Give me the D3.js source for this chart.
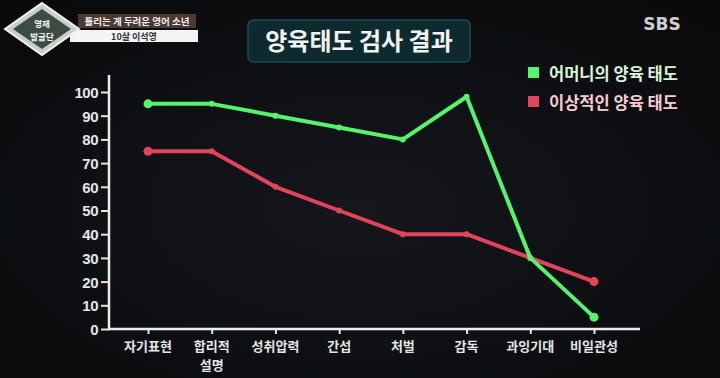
<!DOCTYPE html>
<html>
<head>
<meta charset="utf-8">
<script src="https://cdn.jsdelivr.net/npm/d3@7"></script>
<style>
  html, body { margin: 0; padding: 0; background: #0d0e11; }
  svg { display: block; font-family: "Noto Sans CJK KR", "Noto Sans", sans-serif; }
</style>
</head>
<body>
<div id="chart"></div>
<script>
// data
var categories = ["자기표현", "합리적\n설명", "성취압력", "간섭", "처벌", "감독", "과잉기대", "비일관성"];
var motherValues = [95, 95, 90, 85, 80, 98, 30, 5];
var idealValues = [75, 75, 60, 50, 40, 40, 30, 20];
var yTicks = [0, 10, 20, 30, 40, 50, 60, 70, 80, 90, 100];
var seriesNames = ["어머니의 양육 태도", "이상적인 양육 태도"];
var seriesColors = ["#55f46c", "#e2445c"];

var width = 720,
    height = 378;

var svg = d3.select("#chart")
    .append("svg")
    .attr("width", width)
    .attr("height", height);

// background with a faint vignette
var defs = svg.append("defs");
var bg = defs.append("radialGradient")
    .attr("id", "bg")
    .attr("cx", "50%").attr("cy", "55%").attr("r", "70%");
bg.append("stop").attr("offset", "0%").attr("stop-color", "#15171d");
bg.append("stop").attr("offset", "100%").attr("stop-color", "#0a0a0c");

svg.append("rect")
    .attr("width", width)
    .attr("height", height)
    .attr("fill", "url(#bg)");

// Define scales
var x = d3.scalePoint()
    .domain(categories)
    .range([148, 594]);

var y = d3.scaleLinear()
    .domain([0, 100])
    .range([329, 92]);

// title box
svg.append("rect")
    .attr("x", 248).attr("y", 20)
    .attr("width", 222).attr("height", 42)
    .attr("rx", 5)
    .style("fill", "#0d2b2f")
    .style("stroke", "#1d4b50")
    .style("stroke-width", 1.5);

svg.append("text")
    .attr("x", 359).attr("y", 50)
    .attr("text-anchor", "middle")
    .style("fill", "#f2f2f2")
    .style("font-size", "24px")
    .style("font-weight", "bold")
    .text("양육태도 검사 결과");

// Draw Axis
var yAxis = d3.axisLeft(y)
    .tickValues(yTicks)
    .tickSize(8)
    .tickPadding(3);

var xAxis = d3.axisBottom(x)
    .tickSize(5)
    .tickFormat("");

var gy = svg.append("g")
    .attr("transform", "translate(109,0)")
    .call(yAxis);
gy.select(".domain").remove();
gy.selectAll("line").style("stroke", "#e6e6e6").style("stroke-width", 2);
gy.selectAll("text")
    .style("fill", "#e6e6e6")
    .style("font-size", "15px")
    .style("font-weight", "bold")
    .style("letter-spacing", "-0.5px")
    .attr("dy", "0.36em");

var gx = svg.append("g")
    .attr("transform", "translate(0,329)")
    .call(xAxis);
gx.select(".domain").remove();
gx.selectAll("line").style("stroke", "#e6e6e6").style("stroke-width", 2);

// axis lines
svg.append("path")
    .attr("d", "M109,75 V329 H640")
    .style("fill", "none")
    .style("stroke", "#ececec")
    .style("stroke-width", 2.5);

// category labels, some have two lines
categories.forEach(function(c) {
    var parts = c.split("\n");
    parts.forEach(function(p, i) {
        svg.append("text")
            .attr("x", x(c))
            .attr("y", 351 + i * 19)
            .attr("text-anchor", "middle")
            .style("fill", "#e6e6e6")
            .style("font-size", "13px")
            .style("font-weight", "bold")
            .text(p);
    });
});

//Define lines
var line = d3.line()
    .x(function(d, i) { return x(categories[i]); })
    .y(function(d) { return y(d); });

var series = [idealValues, motherValues];
var colorsBySeries = [seriesColors[1], seriesColors[0]];

series.forEach(function(vals, k) {
    svg.append("path")
        .datum(vals)
        .attr("d", line)
        .style("fill", "none")
        .style("stroke", colorsBySeries[k])
        .style("stroke-width", 4)
        .style("stroke-linejoin", "round")
        .style("stroke-linecap", "round");

    svg.selectAll(".dot" + k)
        .data(vals)
        .enter()
        .append("circle")
        .attr("class", "dot" + k)
        .attr("cx", function(d, i) { return x(categories[i]); })
        .attr("cy", function(d) { return y(d); })
        .attr("r", function(d, i) { return (i == 0 || i == vals.length - 1) ? 4.5 : 3; })
        .style("fill", colorsBySeries[k]);
});

// legend
var legendText = ["#d8f5d8", "#f7cdd2"];
seriesNames.forEach(function(name, i) {
    svg.append("rect")
        .attr("x", 528).attr("y", 67 + i * 29)
        .attr("width", 11).attr("height", 11)
        .style("fill", seriesColors[i]);
    svg.append("text")
        .attr("x", 549).attr("y", 80 + i * 29)
        .style("fill", legendText[i])
        .style("font-size", "16.5px")
        .style("font-weight", "bold")
        .text(name);
});

// top-left program badge
var badge = svg.append("g");
badge.append("rect")
    .attr("x", 78).attr("y", 14)
    .attr("width", 118).attr("height", 14)
    .style("fill", "#4a3a30");
badge.append("text")
    .attr("x", 137).attr("y", 25)
    .attr("text-anchor", "middle")
    .style("fill", "#f0f0f0")
    .style("font-size", "9.5px")
    .style("font-weight", "bold")
    .text("틀리는 게 두려운 영어 소년");
badge.append("rect")
    .attr("x", 70).attr("y", 30)
    .attr("width", 128).attr("height", 12)
    .style("fill", "#f4f4f4");
badge.append("text")
    .attr("x", 134).attr("y", 40)
    .attr("text-anchor", "middle")
    .style("fill", "#333")
    .style("font-size", "9px")
    .style("font-weight", "bold")
    .text("10살 이석영");
badge.append("path")
    .attr("d", "M42,3 L79,29 L42,55 L5,29 Z")
    .style("fill", "#c8cfc9")
    .style("stroke", "#eef2ee")
    .style("stroke-width", 2);
badge.append("path")
    .attr("d", "M42,9 L71,29 L42,49 L13,29 Z")
    .style("fill", "#3e4a44");
badge.append("text")
    .attr("x", 42).attr("y", 27)
    .attr("text-anchor", "middle")
    .style("fill", "#f4f4f4")
    .style("font-size", "8.5px")
    .style("font-weight", "bold")
    .text("영재");
badge.append("text")
    .attr("x", 42).attr("y", 40)
    .attr("text-anchor", "middle")
    .style("fill", "#f4f4f4")
    .style("font-size", "8.5px")
    .style("font-weight", "bold")
    .text("발굴단");

// broadcaster logo
svg.append("text")
    .attr("x", 662).attr("y", 30)
    .attr("text-anchor", "middle")
    .style("fill", "#cfcfcf")
    .style("font-family", "'DejaVu Sans', sans-serif")
    .style("font-size", "17px")
    .style("font-weight", "bold")
    .text("SBS");
</script>
</body>
</html>
